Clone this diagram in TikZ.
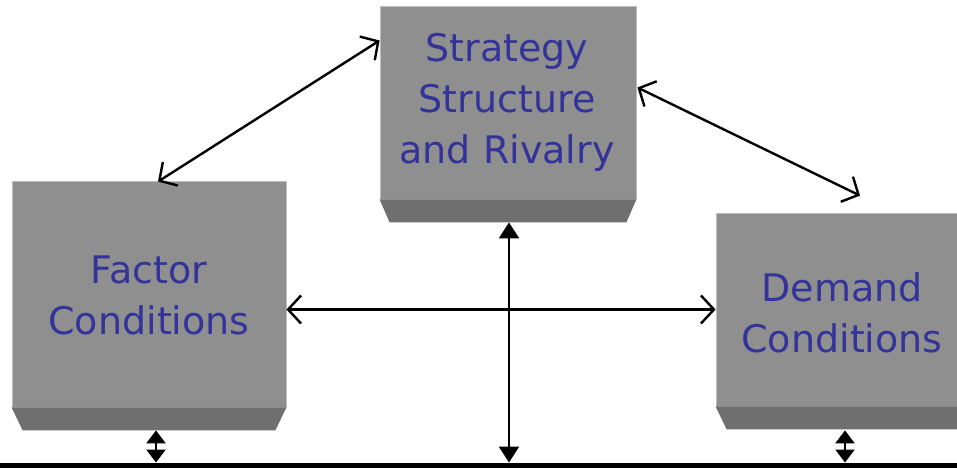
\documentclass[tikz,border=0pt]{standalone}
\usepackage{fontspec}
\setmainfont{DejaVu Sans}
\usetikzlibrary{arrows.meta,calc}
\definecolor{facegray}{HTML}{8F8F8F}
\definecolor{bevelgray}{HTML}{6F6F6F}
\definecolor{rimgray}{HTML}{BDBDBD}
\definecolor{txtblue}{HTML}{333399}
\tikzset{
  face/.style={rectangle, fill=facegray, draw=rimgray, line width=0.8pt, inner sep=0pt},
  bevel/.style={fill=bevelgray},
  lbl/.style={text=txtblue, align=center, font=\fontsize{38}{51}\selectfont},
  openarr/.style={line width=2.4pt, {Straight Barb[length=13pt,width=28pt,line width=2.4pt]}-{Straight Barb[length=13pt,width=28pt,line width=2.4pt]}},
  solidarr/.style={line width=2.4pt, {Triangle[length=16pt,width=20pt]}-{Triangle[length=16pt,width=20pt]}},
  shortarr/.style={line width=2.4pt, {Triangle[length=13pt,width=19pt]}-{Triangle[length=13pt,width=19pt]}}
}
\begin{document}
\begin{tikzpicture}[x=1pt,y=-1pt]
\useasboundingbox (0,0) rectangle (957,468);
\clip (0,0) rectangle (957,468);
% boxes
\node[face, minimum width=256pt, minimum height=193pt] (S) at (508,102.5) {};
\node[face, minimum width=274pt, minimum height=226pt] (F) at (149,294) {};
\node[face, minimum width=254pt, minimum height=193pt] (D) at (843,309.5) {};
% bevels
\fill[bevel] (S.south west) -- (S.south east) -- ++(-10,23) -- ($(S.south west)+(10,23)$) -- cycle;
\fill[bevel] (F.south west) -- (F.south east) -- ++(-11,23) -- ($(F.south west)+(11,23)$) -- cycle;
\fill[bevel] (D.south west) -- (D.south east) -- ++(-11,23) -- ($(D.south west)+(11,23)$) -- cycle;
\coordinate (Sb) at ($(S.south)+(1,23)$);
\coordinate (Fb) at ($(F.south)+(7,23)$);
\coordinate (Db) at ($(D.south)+(2,24)$);
% labels
\node[lbl] (St) at (507,102) {Strategy\\Structure\\and Rivalry};
\node[lbl] (Ft) at (149,295) {Factor\\Conditions};
\node[lbl] (Dt) at (842,313) {Demand\\Conditions};
% base line
\coordinate (L0) at (0,465.5);
\coordinate (L1) at (957,465.5);
\draw[line width=5pt] (L0) -- (L1);
% connectors
\draw[openarr] ($(F.north)+(9,1)$) -- ($(S.west)+(0,-62)$);
\draw[openarr] ($(S.east)+(1,-15)$) -- ($(D.north)+(17,-17)$);
\draw[openarr] (F.east |- D.west) -- (D.west);
\draw[solidarr] (Sb) -- ($(Sb |- L0)+(0,-3)$);
\draw[shortarr] (Fb) -- ($(Fb |- L0)+(0,-3)$);
\draw[shortarr] (Db) -- ($(Db |- L0)+(0,-3)$);
\end{tikzpicture}
\end{document}
